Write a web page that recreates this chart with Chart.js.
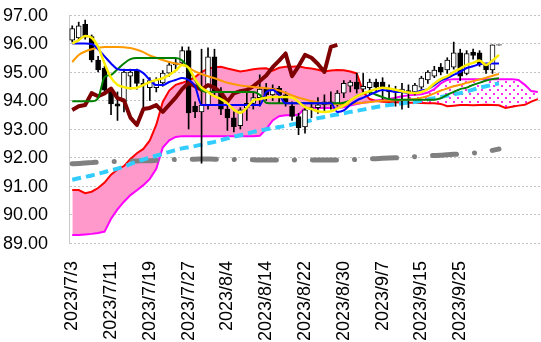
<!DOCTYPE html>
<html>
<head>
<meta charset="utf-8">
<script src="https://cdn.jsdelivr.net/npm/chart.js@4.4.0/dist/chart.umd.min.js"></script>
<style>
  html, body { margin: 0; padding: 0; background: #fff; }
  #wrap { width: 541px; height: 342px; position: relative; }
</style>
</head>
<body>
<div id="wrap"><canvas id="ichimoku"></canvas></div>
<script>
// ============================================================
// Ichimoku chart — candles, moving averages and the cloud
// ============================================================

// ── Categories: trading days, then blank slots for the forward cloud ──
const dates = [
  '2023/7/3', '2023/7/4', '2023/7/5', '2023/7/6', '2023/7/7', '2023/7/10',
  '2023/7/11', '2023/7/12', '2023/7/13', '2023/7/14', '2023/7/17', '2023/7/18',
  '2023/7/19', '2023/7/20', '2023/7/21', '2023/7/24', '2023/7/25', '2023/7/26',
  '2023/7/27', '2023/7/28', '2023/7/31', '2023/8/1', '2023/8/2', '2023/8/3',
  '2023/8/4', '2023/8/7', '2023/8/8', '2023/8/9', '2023/8/10', '2023/8/11',
  '2023/8/14', '2023/8/15', '2023/8/16', '2023/8/17', '2023/8/18', '2023/8/21',
  '2023/8/22', '2023/8/23', '2023/8/24', '2023/8/25', '2023/8/28', '2023/8/29',
  '2023/8/30', '2023/8/31', '2023/9/1', '2023/9/4', '2023/9/5', '2023/9/6',
  '2023/9/7', '2023/9/8', '2023/9/11', '2023/9/12', '2023/9/13', '2023/9/14',
  '2023/9/15', '2023/9/18', '2023/9/19', '2023/9/20', '2023/9/21', '2023/9/22',
  '2023/9/25', '2023/9/26', '2023/9/27', '2023/9/28', '2023/9/29', '2023/10/2'
];
const FUTURE_SLOTS = 7;
const LABEL_STEP   = 6;

// ── Y axis ticks ──
const yTicks = [89, 90, 91, 92, 93, 94, 95, 96, 97];

// ── Candles (OHLC) ──
const openPx = [
  96.12, 96.20, 96.67, 96.24, 95.42, 95.14, 94.32, 93.88, 93.95, 94.85,
  95.05, 94.60, 94.45, 94.45, 94.62, 94.96, 95.25, 95.32, 95.75, 93.80,
  93.60, 93.84, 95.53, 94.30, 93.70, 93.39, 93.12, 93.74, 93.90, 94.10,
  94.40, 94.20, 94.43, 94.20, 93.80, 93.44, 93.07, 93.67, 93.75, 93.85,
  93.95, 93.90, 94.26, 94.50, 94.65, 94.40, 94.45, 94.65, 94.65, 94.43,
  94.30, 94.30, 94.35, 94.30, 94.47, 94.72, 94.85, 95.17, 95.07, 95.17,
  95.67, 94.95, 95.70, 95.67, 95.25, 95.07, 95.94
];
const highPx = [
  96.62, 96.75, 96.82, 96.30, 95.55, 95.20, 94.45, 94.30, 95.10, 95.10,
  95.10, 94.75, 94.80, 94.80, 95.05, 95.35, 95.45, 95.88, 95.88, 93.95,
  95.80, 95.85, 95.80, 94.45, 93.80, 93.60, 93.75, 94.26, 94.30, 94.90,
  94.60, 94.55, 94.50, 94.30, 93.95, 93.55, 93.80, 93.95, 94.10, 94.20,
  94.30, 94.35, 94.70, 94.70, 94.96, 94.95, 94.75, 94.75, 94.80, 94.55,
  94.50, 94.60, 94.55, 94.60, 94.85, 95.05, 95.20, 95.30, 95.50, 96.05,
  95.80, 95.75, 95.80, 95.75, 95.30, 95.95, 95.96
];
const lowPx = [
  96.05, 96.10, 96.15, 95.35, 95.00, 94.30, 93.50, 93.30, 93.60, 94.40,
  94.40, 93.70, 94.00, 94.30, 94.50, 94.85, 95.10, 95.25, 93.00, 93.40,
  91.80, 93.70, 94.20, 93.50, 92.95, 92.90, 93.00, 93.30, 93.70, 93.80,
  94.00, 94.00, 93.90, 93.80, 93.30, 92.80, 92.85, 93.40, 93.55, 93.60,
  93.70, 93.80, 94.10, 94.30, 94.26, 94.25, 94.20, 94.30, 94.00, 94.10,
  93.80, 93.70, 93.75, 94.20, 94.40, 94.60, 94.80, 94.90, 94.95, 95.10,
  94.70, 94.90, 95.45, 95.20, 94.95, 94.95, 95.94
];
const closePx = [
  96.52, 96.62, 96.22, 95.42, 95.07, 94.36, 93.88, 93.80, 95.00, 95.00,
  94.60, 94.55, 94.70, 94.72, 94.96, 95.25, 95.32, 95.75, 93.56, 93.60,
  93.84, 95.53, 94.30, 93.70, 93.39, 93.08, 93.67, 93.90, 94.10, 94.40,
  94.20, 94.43, 94.20, 93.95, 93.44, 93.05, 93.67, 93.75, 93.85, 93.95,
  93.90, 94.26, 94.60, 94.65, 94.40, 94.50, 94.65, 94.47, 94.43, 94.30,
  94.35, 94.40, 94.30, 94.54, 94.79, 95.00, 95.07, 95.00, 95.42, 95.67,
  94.85, 95.65, 95.58, 95.25, 95.07, 95.95, 95.96
];

// ── Ichimoku lines ──
const conversionLine = [
  96.00, 96.00, 96.00, 95.98, 95.80, 95.55, 95.30, 95.10, 95.07, 95.07,
  95.07, 94.96, 94.72, 94.54, 94.54, 94.65, 94.72, 94.79, 94.72, 94.50,
  93.84, 93.84, 93.84, 93.84, 93.84, 93.84, 93.84, 93.84, 93.84, 93.84,
  94.30, 94.37, 94.20, 93.90, 93.90, 93.90, 93.90, 93.90, 93.90, 93.90,
  93.90, 93.60, 93.65, 93.85, 94.00, 94.10, 94.20, 94.30, 94.37, 94.35,
  94.30, 94.30, 94.26, 94.28, 94.35, 94.40, 94.54, 94.70, 94.79, 94.90,
  95.00, 95.14, 95.20, 95.28, 95.30, 95.30, 95.30
];
const baseLine = [
  93.97, 93.97, 93.97, 93.97, 94.08, 94.82, 94.90, 95.10, 95.30, 95.45,
  95.49, 95.49, 95.49, 95.49, 95.49, 95.49, 95.49, 95.40, 95.10, 94.72,
  94.37, 94.30, 94.30, 94.30, 94.30, 94.30, 94.30, 94.30, 94.30, 94.20,
  93.92, 93.90, 93.90, 93.90, 93.90, 93.90, 93.90, 93.90, 93.90, 93.90,
  93.90, 93.90, 93.92, 94.00, 94.15, 94.25, 94.30, 94.20, 94.12, 94.05,
  94.03, 94.03, 94.03, 94.03, 94.03, 94.03, 94.03, 94.08, 94.20, 94.30,
  94.40, 94.45, 94.55, 94.62, 94.70, 94.75, 94.78
];
const laggingSpan = [
  93.67, 93.80, 93.84, 94.26, 94.15, 94.25, 94.42, 94.08, 94.00, 93.40,
  93.14, 93.70, 93.74, 93.84, 93.60, 93.85, 94.10, 94.40, 94.62, 94.50,
  94.38, 94.54, 94.45, 94.28, 93.96, 94.25, 94.33, 94.37, 94.50, 94.68,
  94.88, 95.17, 95.40, 95.65, 94.85, 95.20, 95.60, 95.50, 95.28, 95.00,
  95.88, 95.95
];
const leadingSpanA = [
  90.86, 90.86, 90.75, 90.80, 90.93, 91.12, 91.40, 91.58, 91.70, 91.95,
  92.15, 92.30, 92.60, 93.15, 93.95, 94.35, 94.55, 94.62, 94.70, 94.82,
  95.00, 95.12, 95.17, 95.18, 95.12, 95.07, 95.02, 95.05, 95.10, 95.12,
  95.13, 95.05, 95.15, 95.18, 95.18, 95.20, 95.15, 95.12, 95.08, 95.02,
  95.05, 95.07, 95.06, 95.02, 94.95, 94.30, 94.05, 93.98, 93.96, 93.95,
  93.94, 93.93, 93.92, 93.92, 93.91, 93.90, 93.90, 93.88, 93.80, 93.82,
  93.84, 93.84, 93.83, 93.84, 93.85, 93.84, 93.83, 93.74, 93.78, 93.82,
  93.85, 93.96, 94.05
];
const leadingSpanB = [
  89.28, 89.28, 89.30, 89.32, 89.35, 89.40, 89.85, 90.18, 90.45, 90.68,
  90.85, 91.03, 91.25, 91.60, 92.35, 92.60, 92.72, 92.75, 92.75, 92.75,
  92.75, 92.75, 92.75, 92.75, 92.75, 92.75, 92.75, 92.75, 92.75, 92.76,
  93.00, 93.30, 93.45, 93.48, 93.48, 93.50, 93.74, 93.74, 93.74, 93.74,
  93.74, 93.74, 93.76, 93.82, 93.88, 93.92, 93.95, 94.00, 94.03, 94.05,
  94.10, 94.15, 94.18, 94.20, 94.22, 94.28, 94.40, 94.60, 94.72, 94.75,
  94.75, 94.75, 94.75, 94.75, 94.75, 94.75, 94.75, 94.75, 94.75, 94.72,
  94.55, 94.33, 94.30
];

// ── Moving averages ──
const maShort = [
  96.00, 96.12, 96.26, 96.20, 95.88, 95.30, 94.80, 94.55, 94.47, 94.43,
  94.45, 94.54, 94.65, 94.72, 94.78, 94.90, 95.05, 95.25, 95.15, 94.75,
  94.45, 94.30, 94.15, 94.05, 93.90, 93.68, 93.57, 93.75, 94.00, 94.05,
  94.10, 94.12, 94.12, 94.12, 94.10, 93.95, 93.77, 93.70, 93.62, 93.60,
  93.62, 93.72, 93.82, 94.00, 94.15, 94.25, 94.33, 94.40, 94.45, 94.42,
  94.38, 94.32, 94.28, 94.26, 94.30, 94.40, 94.60, 94.75, 94.85, 95.00,
  95.12, 95.25, 95.32, 95.40, 95.25, 95.40, 95.60
];
const maMid = [
  95.35, 95.60, 95.72, 95.80, 95.85, 95.88, 95.88, 95.88, 95.87, 95.84,
  95.78, 95.70, 95.58, 95.50, 95.42, 95.35, 95.30, 95.25, 95.15, 95.02,
  94.93, 94.85, 94.78, 94.70, 94.62, 94.57, 94.53, 94.50, 94.47, 94.45,
  94.43, 94.40, 94.35, 94.27, 94.18, 94.10, 94.04, 93.98, 93.93, 93.90,
  93.88, 93.87, 93.86, 93.87, 93.90, 93.92, 93.95, 93.97, 94.00, 94.00,
  94.01, 94.02, 94.03, 94.05, 94.10, 94.16, 94.25, 94.35, 94.42, 94.50,
  94.55, 94.62, 94.68, 94.74, 94.80, 94.87, 94.93
];
const maLong = [
  91.22, 91.27, 91.32, 91.37, 91.43, 91.49, 91.55, 91.61, 91.68, 91.77,
  91.86, 91.93, 92.00, 92.06, 92.13, 92.20, 92.26, 92.32, 92.36, 92.40,
  92.45, 92.50, 92.55, 92.61, 92.67, 92.73, 92.78, 92.84, 92.90, 92.95,
  92.99, 93.03, 93.07, 93.11, 93.16, 93.20, 93.25, 93.31, 93.38, 93.42,
  93.47, 93.51, 93.55, 93.60, 93.64, 93.68, 93.73, 93.77, 93.81, 93.84,
  93.87, 93.90, 93.93, 93.95, 93.99, 94.04, 94.08, 94.12, 94.17, 94.22,
  94.26, 94.32, 94.38, 94.45, 94.50, 94.55, 94.60
];
const maVeryLong = [
  91.78, 91.79, 91.81, 91.82, 91.84, 91.85, 91.86, 91.86, 91.87, 91.88,
  91.88, 91.89, 91.89, 91.90, 91.91, 91.92, 91.93, 91.93, 91.94, 91.94,
  91.95, 91.95, 91.94, 91.94, 91.93, 91.93, 91.92, 91.92, 91.92, 91.91,
  91.91, 91.91, 91.91, 91.91, 91.91, 91.91, 91.91, 91.91, 91.91, 91.91,
  91.91, 91.91, 91.91, 91.92, 91.93, 91.94, 91.95, 91.96, 91.97, 91.98,
  91.99, 92.00, 92.02, 92.03, 92.04, 92.06, 92.07, 92.08, 92.10, 92.11,
  92.13, 92.15, 92.16, 92.17, 92.20, 92.25, 92.30
];

// ── Helpers ──────────────────────────────────────────────
const FONT = "'Liberation Sans', Arial, sans-serif";
const labels = dates.concat(Array(FUTURE_SLOTS).fill(''));
const N = labels.length;
const pad = (arr) => arr.concat(Array(N - arr.length).fill(null));

// dotted fill used where span B sits above span A
function dotPattern() {
  const c = document.createElement('canvas');
  c.width = 8; c.height = 8;
  const g = c.getContext('2d');
  g.fillStyle = '#ffffff';
  g.fillRect(0, 0, 8, 8);
  g.fillStyle = '#ff2bee';
  g.fillRect(1, 1, 2, 2);
  g.fillRect(5, 5, 2, 2);
  return g.createPattern(c, 'repeat');
}

function lineSet(label, data, color, width, extra) {
  return Object.assign({
    type: 'line',
    label: label,
    data: pad(data),
    borderColor: color,
    borderWidth: width,
    pointRadius: 0,
    pointHoverRadius: 0,
    fill: false,
    cubicInterpolationMode: 'monotone',
    spanGaps: false
  }, extra || {});
}

const wicks  = closePx.map((_, i) => [lowPx[i], highPx[i]]);
const bodies = closePx.map((c, i) => [openPx[i], c]);
const bodyFill = closePx.map((c, i) => (c >= openPx[i] ? '#ffffff' : '#000000'));

new Chart(document.getElementById('ichimoku'), {
  type: 'bar',
  data: {
    labels: labels,
    datasets: [
      lineSet('先行スパン1', leadingSpanA, '#ff0000', 2, {
        order: 20, tension: 0, cubicInterpolationMode: 'default',
        fill: { target: '+1', above: '#ff99cc', below: dotPattern() }
      }),
      lineSet('先行スパン2', leadingSpanB, '#ff00ff', 2, {
        order: 19, tension: 0, cubicInterpolationMode: 'default'
      }),
      lineSet('200日線', maVeryLong, '#808080', 5, {
        order: 18, borderDash: [24, 18, 0.1, 18], borderCapStyle: 'round'
      }),
      lineSet('75日線', maLong, '#33ccff', 4, {
        order: 17, borderDash: [9, 5]
      }),
      {
        type: 'bar', label: 'ヒゲ', data: pad(wicks),
        backgroundColor: '#000000', barThickness: 1, grouped: false, order: 16
      },
      {
        type: 'bar', label: 'ローソク足', data: pad(bodies),
        backgroundColor: bodyFill, borderColor: '#000000', borderWidth: 1,
        borderSkipped: false, barThickness: 5, grouped: false, order: 15
      },
      lineSet('遅行スパン', laggingSpan, '#7f0000', 4, {
        order: 14, tension: 0, cubicInterpolationMode: 'default', borderJoinStyle: 'round'
      }),
      lineSet('25日線', maMid, '#ff9900', 2, { order: 13 }),
      lineSet('基準線', baseLine, '#008000', 2, { order: 12 }),
      lineSet('転換線', conversionLine, '#0000ff', 2, { order: 11 }),
      lineSet('5日線', maShort, '#ffee00', 2.5, { order: 10 })
    ]
  },
  options: {
    responsive: true,
    maintainAspectRatio: false,
    animation: false,
    devicePixelRatio: 1,
    layout: { padding: { top: 15, right: 0, bottom: 0, left: 0 } },
    plugins: {
      legend: { display: false },
      tooltip: { enabled: false },
      filler: { drawTime: 'beforeDatasetsDraw' }
    },
    scales: {
      x: {
        type: 'category',
        offset: true,
        grid: { display: false },
        border: { display: false },
        ticks: {
          autoSkip: false,
          minRotation: 90,
          maxRotation: 90,
          padding: 10,
          color: '#000000',
          font: { family: FONT, size: 18 },
          callback: (v, i) => (i % LABEL_STEP === 0 ? labels[i] : '')
        },
        afterFit: (scale) => {
          scale.height = 99;
          scale.paddingLeft = 0;
          scale.paddingRight = 0;
        }
      },
      y: {
        min: yTicks[0],
        max: yTicks[yTicks.length - 1],
        grid: { color: '#c4c4c4', lineWidth: 1, drawTicks: false },
        border: { display: true, color: '#c8c8c8', width: 1, dash: [2, 2] },
        afterBuildTicks: (scale) => { scale.ticks = yTicks.map(v => ({ value: v })); },
        ticks: {
          padding: 21,
          labelOffset: 1,
          color: '#000000',
          font: { family: FONT, size: 18 },
          callback: (v) => Number(v).toFixed(2)
        },
        afterFit: (scale) => {
          scale.width = 69;
          scale.paddingTop = 0;
          scale.paddingBottom = 0;
        }
      }
    }
  }
});
</script>
</body>
</html>
